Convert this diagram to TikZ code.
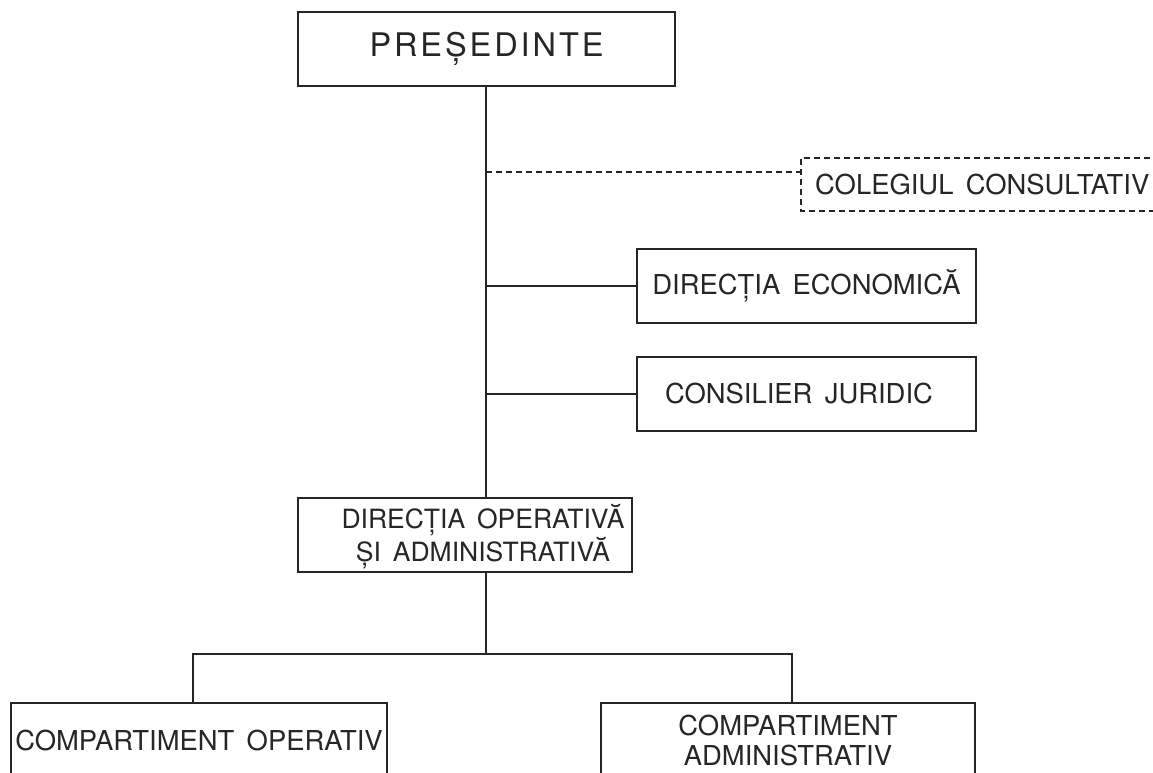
\documentclass[tikz,border=0pt]{standalone}
\usepackage{fontspec}
\setmainfont{TeX Gyre Heros}
\newcommand{\wsp}{\hspace{0.45em}}
\begin{document}
\begin{tikzpicture}[x=1pt,y=-1pt,
  box/.style={draw=black!85, line width=1.5pt, inner sep=0pt, align=center,
    font=\fontsize{27.4}{30}\selectfont, text=black!85},
  label/.style={inner sep=0pt, align=center, font=\fontsize{27.4}{33}\selectfont, text=black!85},
  conn/.style={draw=black!85, line width=1.5pt},
  dconn/.style={draw=black!85, line width=1.3pt, dash pattern=on 6pt off 4pt}]
\clip (0,0) rectangle (1153,772);
\fill[white] (0,0) rectangle (1153,772);

\node[box, minimum width=377pt, minimum height=74pt,
  font=\fontsize{32.5}{36}\selectfont\addfontfeature{LetterSpace=9}] (pres) at (486.5,49) {PREȘEDINTE};

\node[label, anchor=west] (coleg) at (815,185) {COLEGIUL\wsp CONSULTATIV};
\draw[dconn] (1160,158) -- (801,158) -- (801,211) -- (1160,211);
\coordinate (dl) at (801,172);

\node[box, minimum width=339pt, minimum height=74pt] (econ) at (806.5,286) {DIRECȚIA\wsp ECONOMICĂ};
\node[box, minimum width=339pt, minimum height=74pt] (jur) at (806.5,394) {};
\node[label] (jurt) at (799,394) {CONSILIER\wsp JURIDIC};

\node[box, minimum width=334pt, minimum height=74pt] (dirop) at (465,535) {};
\node[label, font=\fontsize{26.5}{33}\selectfont] (dirot) at (483,537) {DIRECȚIA\wsp OPERATIVĂ\\ȘI\wsp ADMINISTRATIVĂ};

\node[box, minimum width=376pt, minimum height=74pt] (cop) at (199,740) {COMPARTIMENT\wsp OPERATIV};
\node[box, minimum width=374pt, minimum height=74pt] (cadm) at (788,740) {COMPARTIMENT\\ADMINISTRATIV};

\coordinate (trunk) at (486,0);
\coordinate (bus) at (486,654);
\coordinate (bl) at (193,654);
\coordinate (br) at (792,654);

\draw[conn] (trunk |- pres.south) -- (trunk |- dirop.north);
\draw[dconn] (trunk |- dl) -- (dl);
\draw[conn] (trunk |- econ.west) -- (econ.west);
\draw[conn] (trunk |- jur.west) -- (jur.west);
\draw[conn] (trunk |- dirop.south) -- (bus);
\draw[conn] (bl |- cop.north) -- (bl) -- (br) -- (br |- cadm.north);
\end{tikzpicture}
\end{document}
